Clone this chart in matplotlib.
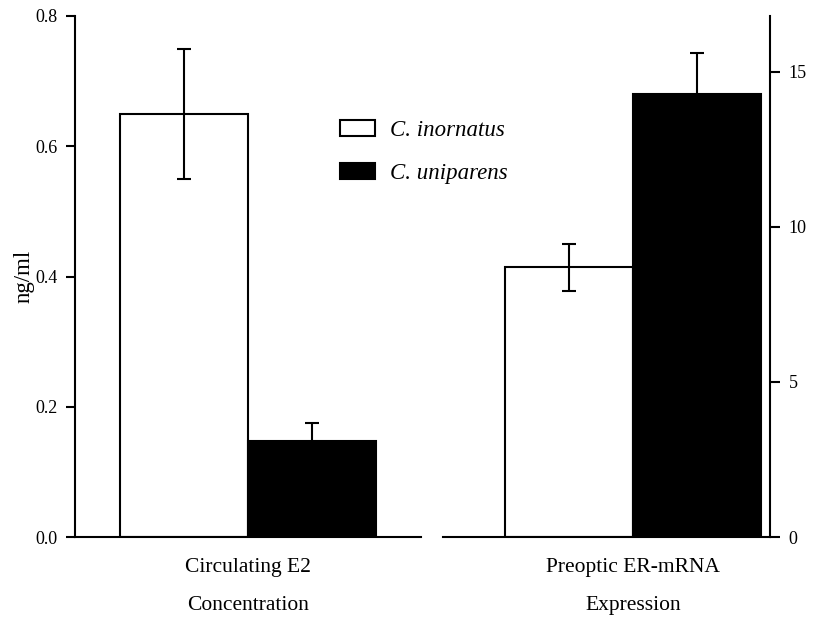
import matplotlib.pyplot as plt
from matplotlib.patches import Patch

plt.rcParams['font.family'] = ['Liberation Serif', 'DejaVu Serif']

species = ['C. inornatus', 'C. uniparens']
colors = ['white', 'black']

# circulating E2 (ng/ml, left axis)
e2_vals = [0.65, 0.147]
e2_err = [0.10, 0.028]

# preoptic ER-mRNA expression (right axis)
er_vals = [8.7, 14.3]
er_err = [0.76, 1.3]

fig = plt.figure(figsize=(8.14, 6.18), dpi=100)

ax1 = fig.add_axes([75/814, 1-537/618, 346/814, 521/618])
ax2 = fig.add_axes([443/814, 1-537/618, 327/814, 521/618])

pos = [0, 1]
ax1.bar(pos, e2_vals, width=1.0, color=colors, edgecolor='black', linewidth=1.5, zorder=2)
ax1.errorbar(pos, e2_vals, yerr=e2_err, fmt='none', ecolor='black',
             elinewidth=1.5, capsize=5, capthick=1.5, zorder=3)
ax2.bar(pos, er_vals, width=1.0, color=colors, edgecolor='black', linewidth=1.5, zorder=2)
ax2.errorbar(pos, er_vals, yerr=er_err, fmt='none', ecolor='black',
             elinewidth=1.5, capsize=5, capthick=1.5, zorder=3)

ax1.set_xlim(-0.852, 1.85)
ax1.set_ylim(0, 0.8)
ax1.set_yticks([0, 0.2, 0.4, 0.6, 0.8])
ax1.set_yticklabels(['0.0', '0.2', '0.4', '0.6', '0.8'])
ax1.set_ylabel('ng/ml', fontsize=16.5)
ax1.yaxis.set_label_coords(-0.118, 0.5)

ax2.set_xlim(-0.984, 1.57)
ax2.set_ylim(0, 16.8)
ax2.set_yticks([0, 5, 10, 15])
ax2.yaxis.tick_right()

for ax in (ax1, ax2):
    ax.set_xticks([])
    ax.spines['top'].set_visible(False)
    ax.spines['bottom'].set_linewidth(1.5)
    for s in ('left', 'right'):
        ax.spines[s].set_linewidth(1.5)
    ax.tick_params(axis='y', labelsize=13, width=1.5)

ax1.spines['right'].set_visible(False)
ax1.tick_params(axis='y', length=6.5, pad=6)
ax2.spines['left'].set_visible(False)
ax2.tick_params(axis='y', length=7.5, pad=6)

tr1 = ax1.get_xaxis_transform()
ax1.text(0.5, -0.0595, 'Circulating E2', transform=tr1, ha='center', va='center', fontsize=15.5)
ax1.text(0.5, -0.1324, 'Concentration', transform=tr1, ha='center', va='center', fontsize=15.5)
tr2 = ax2.get_xaxis_transform()
ax2.text(0.5, -0.0595, 'Preoptic ER-mRNA', transform=tr2, ha='center', va='center', fontsize=15.5)
ax2.text(0.5, -0.1324, 'Expression', transform=tr2, ha='center', va='center', fontsize=15.5)

handles = [Patch(facecolor=c, edgecolor='black', linewidth=1.5) for c in colors]
fig.legend(handles, species, loc='upper left', bbox_to_anchor=(340/814, 1-120/618),
           frameon=False, borderpad=0, borderaxespad=0, handlelength=1.53,
           handleheight=0.7, handletextpad=0.65, labelspacing=0.97,
           prop={'size': 16.5, 'style': 'italic'})

fig.savefig('out.png', dpi=100)
